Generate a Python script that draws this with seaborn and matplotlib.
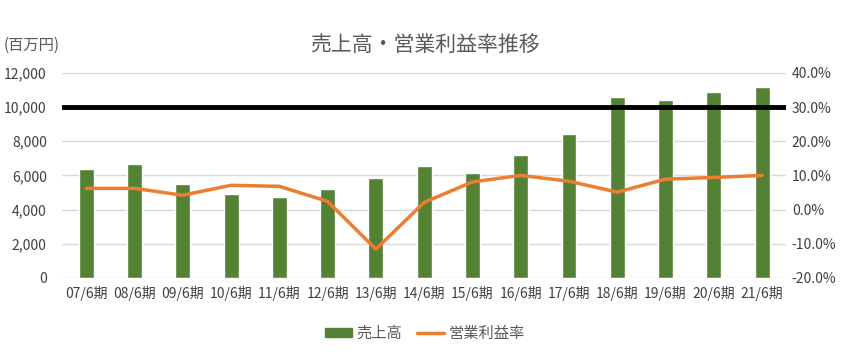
import numpy as np
import pandas as pd
import matplotlib
matplotlib.use("Agg")
import matplotlib.pyplot as plt
import matplotlib.ticker as mticker
from matplotlib.patches import Patch
from matplotlib.lines import Line2D
import seaborn as sns

# data
periods = ["07/6期", "08/6期", "09/6期", "10/6期", "11/6期", "12/6期", "13/6期", "14/6期",
           "15/6期", "16/6期", "17/6期", "18/6期", "19/6期", "20/6期", "21/6期"]
sales = [6370, 6670, 5500, 4910, 4740, 5200, 5850, 6550,
         6140, 7190, 8420, 10590, 10410, 10880, 11170]
margin = [6.2, 6.2, 4.2, 7.1, 6.8, 2.4, -11.6, 2.1,
          8.1, 10.0, 8.3, 5.1, 8.9, 9.4, 10.0]
target_sales = 10000

sns.set_style("white")
plt.rcParams["font.family"] = ["Noto Sans CJK JP", "DejaVu Sans"]

green = "#548235"
orange = "#ED7D31"
grey = "#595959"

df = pd.DataFrame({"period": periods, "sales": sales, "margin": margin})
df["pos"] = np.arange(len(df))

fig = plt.figure(figsize=(8.5, 3.54), dpi=100)
ax = fig.add_axes([0.073, 0.215, 0.852, 0.579])

sns.barplot(data=df, x="period", y="sales", color=green, saturation=1,
            width=0.31, ax=ax, zorder=2)
ax.axhline(target_sales, color="black", lw=3.5, zorder=3)
ax.set_ylim(0, 12000)
ax.set_yticks(np.arange(0, 12001, 2000))
ax.yaxis.set_major_formatter(mticker.StrMethodFormatter("{x:,.0f}"))
ax.grid(axis="y", color="#D9D9D9", lw=1, zorder=0)
ax.set_axisbelow(True)
ax.set_xlim(-0.5, len(df) - 0.5)
ax.set_xlabel("")
ax.set_ylabel("")

ax2 = ax.twinx()
sns.lineplot(data=df, x="pos", y="margin", color=orange, lw=2.5, ax=ax2, zorder=4)
ax2.set_ylim(-20, 40)
ax2.set_yticks(np.arange(-20, 41, 10))
ax2.yaxis.set_major_formatter(mticker.FuncFormatter(lambda v, p: f"{v:.1f}%"))
ax2.set_xlim(-0.5, len(df) - 0.5)
ax2.set_xlabel("")
ax2.set_ylabel("")

for a in (ax, ax2):
    for s in a.spines.values():
        s.set_visible(False)
    a.tick_params(length=0, labelsize=10, colors="#404040")
ax.tick_params(axis="x", pad=6)
ax.tick_params(axis="y", pad=11)
ax2.tick_params(axis="y", pad=4)

fig.text(0.5, 0.873, "売上高・営業利益率推移", ha="center", va="center",
         fontsize=15, color=grey)
fig.text(0.004, 0.873, "(百万円)", ha="left", va="center", fontsize=11, color=grey)

handles = [Patch(color=green), Line2D([0], [0], color=orange, lw=2.5)]
fig.legend(handles, ["売上高", "営業利益率"], loc="center", bbox_to_anchor=(0.5, 0.058),
           ncol=2, frameon=False, fontsize=11, handlelength=1.75, handleheight=0.6,
           handletextpad=0.3, columnspacing=1.0, labelcolor=grey)

fig.savefig("out.png", dpi=100)
